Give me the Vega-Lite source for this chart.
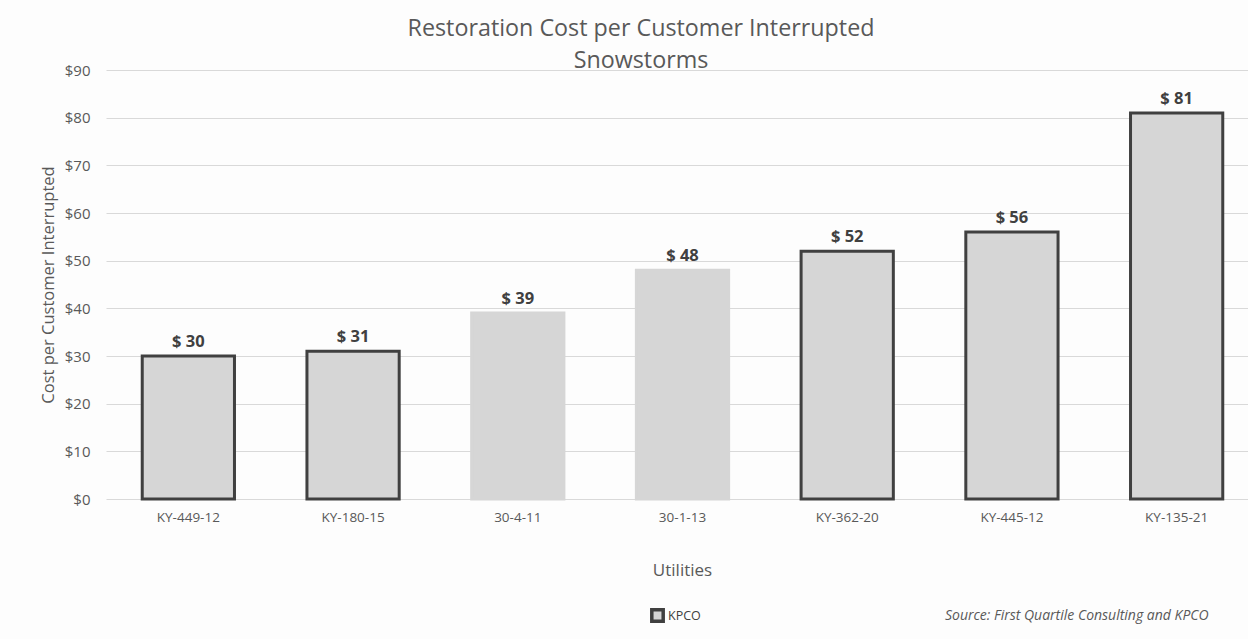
{
  "$schema": "https://vega.github.io/schema/vega-lite/v6.json",
  "width": 1142,
  "height": 429,
  "autosize": {"type": "none"},
  "padding": {"left": 106, "top": 70, "right": 0, "bottom": 140},
  "background": "#fdfdfd",
  "config": {
    "font": "Open Sans",
    "view": {"stroke": null},
    "axis": {"labelColor": "#595959", "titleColor": "#595959", "titleFontWeight": "normal"}
  },
  "title": {
    "text": ["Restoration Cost per Customer Interrupted", "Snowstorms"],
    "fontSize": 23.3,
    "fontWeight": "normal",
    "color": "#595959",
    "anchor": "middle",
    "dx": -36,
    "dy": 14,
    "offset": 4,
    "lineHeight": 32
  },
  "data": {
    "values": [
      {"Utility": "KY-449-12", "Cost": 30, "label": "$ 30", "group": "KPCO"},
      {"Utility": "KY-180-15", "Cost": 31, "label": "$ 31", "group": "KPCO"},
      {"Utility": "30-4-11", "Cost": 39, "label": "$ 39", "group": "Other"},
      {"Utility": "30-1-13", "Cost": 48, "label": "$ 48", "group": "Other"},
      {"Utility": "KY-362-20", "Cost": 52, "label": "$ 52", "group": "KPCO"},
      {"Utility": "KY-445-12", "Cost": 56, "label": "$ 56", "group": "KPCO"},
      {"Utility": "KY-135-21", "Cost": 81, "label": "$ 81", "group": "KPCO"}
    ]
  },
  "encoding": {
    "x": {
      "field": "Utility",
      "type": "nominal",
      "sort": null,
      "scale": {"range": [0, 1153], "paddingInner": 0.44, "paddingOuter": 0.22},
      "axis": {
        "title": "Utilities",
        "labelAngle": 0,
        "labelFontSize": 13.5,
        "labelPadding": 11,
        "ticks": false,
        "domain": false,
        "titleFontSize": 17,
        "titleX": 576,
        "titleY": 71,
        "titleBaseline": "middle"
      }
    },
    "y": {
      "field": "Cost",
      "type": "quantitative",
      "scale": {"domain": [0, 90], "nice": false},
      "axis": {
        "title": "Cost per Customer Interrupted",
        "values": [0, 10, 20, 30, 40, 50, 60, 70, 80, 90],
        "format": "$.0f",
        "labelFontSize": 15,
        "labelPadding": 16,
        "ticks": false,
        "domain": false,
        "gridColor": "#d9d9d9",
        "gridWidth": 1,
        "titleFontSize": 16.5,
        "titlePadding": 8
      }
    }
  },
  "layer": [
    {
      "mark": {"type": "bar", "fill": "#d6d6d6", "strokeWidth": 3},
      "encoding": {
        "stroke": {
          "field": "group",
          "type": "nominal",
          "scale": {"domain": ["KPCO", "Other"], "range": ["#404040", "#d6d6d6"]},
          "legend": {
            "title": null,
            "values": ["KPCO"],
            "orient": "none",
            "legendX": 544,
            "legendY": 538,
            "symbolType": "square",
            "symbolFillColor": "#d6d6d6",
            "symbolStrokeWidth": 3.5,
            "symbolSize": 130,
            "labelFontSize": 12.5,
            "labelColor": "#404040",
            "labelOffset": 3
          }
        }
      }
    },
    {
      "mark": {"type": "text", "fontWeight": "bold", "fontSize": 16.5, "color": "#404040", "baseline": "alphabetic", "dy": -9},
      "encoding": {"text": {"field": "label"}}
    },
    {
      "data": {"values": [{"Utility": "KY-135-21", "Cost": 0, "note": "Source: First Quartile Consulting and KPCO"}]},
      "mark": {"type": "text", "fontStyle": "italic", "fontSize": 14, "color": "#595959", "align": "right", "baseline": "middle", "dx": 32, "dy": 117},
      "encoding": {
        "text": {"field": "note"}
      }
    }
  ]
}
